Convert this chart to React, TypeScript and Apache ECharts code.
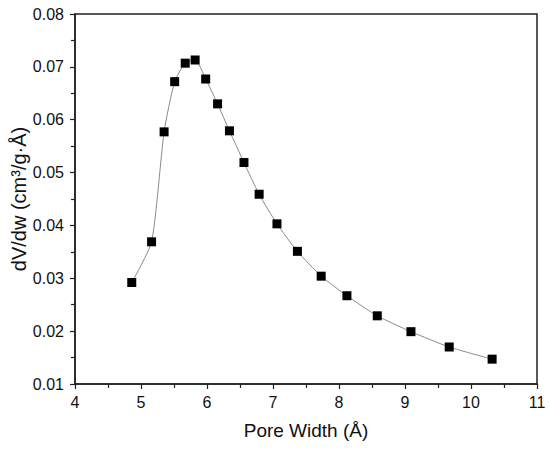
import React, { useEffect, useRef } from "react";
import * as echarts from "echarts";

const poreWidth = [4.86, 5.16, 5.35, 5.51, 5.67, 5.82, 5.98, 6.16, 6.34, 6.56, 6.79, 7.06, 7.37, 7.73, 8.12, 8.58, 9.09, 9.67, 10.32];
const dVdw = [0.0292, 0.0369, 0.0577, 0.0672, 0.0707, 0.0713, 0.0677, 0.063, 0.0579, 0.0519, 0.0459, 0.0403, 0.0351, 0.0304, 0.0267, 0.0229, 0.0199, 0.017, 0.0147];
const xTitle = "Pore Width (Å)";
const yTitle = "dV/dw (cm³/g·Å)";

export default function App() {
  const ref = useRef<HTMLDivElement>(null);
  useEffect(() => {
    document.body.style.margin = "0";
    const chart = echarts.init(ref.current!, null, { renderer: "svg" });
    const font = "'Liberation Sans', Arial, sans-serif";
    chart.setOption({
      animation: false,
      backgroundColor: "#fff",
      grid: {
        left: 75,
        top: 14,
        right: 13,
        bottom: 66,
        outerBoundsMode: "none",
        containLabel: false,
        show: true,
        borderColor: "#222",
        borderWidth: 1.5,
        backgroundColor: "transparent",
      },
      xAxis: {
        type: "value",
        min: 4,
        max: 11,
        interval: 1,
        name: xTitle,
        nameLocation: "middle",
        nameGap: 37,
        nameTextStyle: { fontFamily: font, fontSize: 19, color: "#111" },
        axisLine: { show: true, onZero: false, lineStyle: { color: "#222", width: 1.5 } },
        axisTick: { show: true, inside: false, length: 5, lineStyle: { color: "#222", width: 1.2 } },
        minorTick: { show: true, splitNumber: 2, length: 4, lineStyle: { color: "#222", width: 1.2 } },
        splitLine: { show: false },
        axisLabel: { fontFamily: font, fontSize: 16, color: "#111", margin: 10 },
      },
      yAxis: {
        type: "value",
        min: 0.01,
        max: 0.08,
        interval: 0.01,
        name: yTitle,
        nameLocation: "middle",
        nameGap: 46,
        nameMoveOverlap: false,
        nameRotate: 90,
        nameTextStyle: { fontFamily: font, fontSize: 20, color: "#111" },
        axisLine: { show: true, onZero: false, lineStyle: { color: "#222", width: 1.5 } },
        axisTick: { show: true, inside: false, length: 5, lineStyle: { color: "#222", width: 1.2 } },
        minorTick: { show: true, splitNumber: 2, length: 4, lineStyle: { color: "#222", width: 1.2 } },
        splitLine: { show: false },
        axisLabel: {
          fontFamily: font,
          fontSize: 16,
          color: "#111",
          margin: 11,
          formatter: (v: number) => v.toFixed(2),
        },
      },
      series: [
        {
          type: "line",
          data: poreWidth.map((x, i) => [x, dVdw[i]]),
          smooth: 0.2,
          symbol: "rect",
          symbolSize: 9,
          itemStyle: { color: "#000" },
          lineStyle: { color: "#8a8a8a", width: 1 },
        },
      ],
    });
    return () => chart.dispose();
  }, []);
  return <div ref={ref} style={{ position: "absolute", left: 0, top: 0, width: 550, height: 450 }} />;
}
